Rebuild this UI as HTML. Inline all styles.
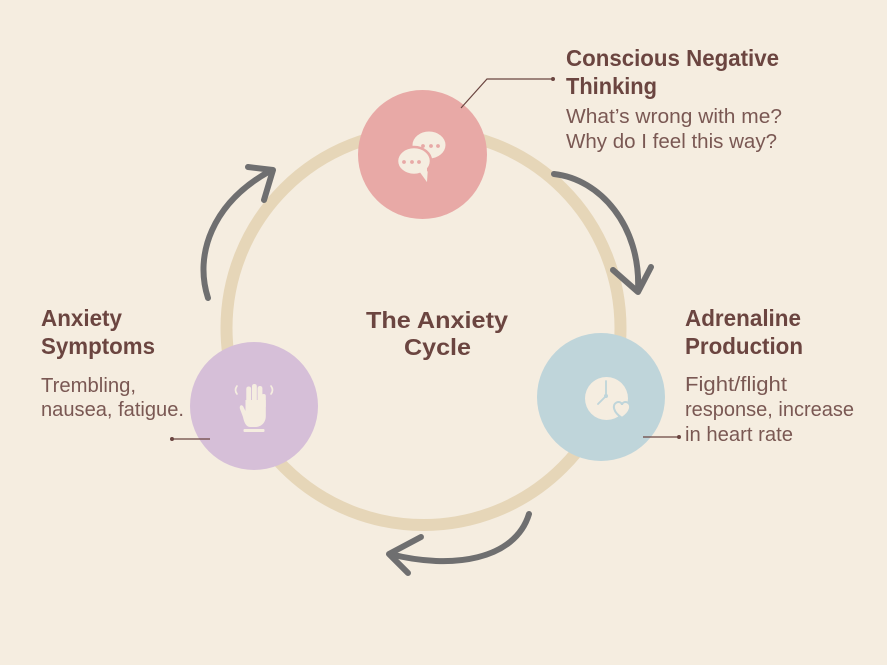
<!DOCTYPE html>
<html>
<head>
<meta charset="utf-8">
<style>
  html, body { margin: 0; padding: 0; background: #f5ede0; }
  body { width: 887px; height: 665px; overflow: hidden; }
  svg { display: block; }
  .h { font-family: "Liberation Sans", "DejaVu Sans", sans-serif; font-weight: bold; font-size: 23px; fill: #6b4540; }
  .b { font-family: "Liberation Sans", "DejaVu Sans", sans-serif; font-size: 20px; fill: #7a5853; }
</style>
</head>
<body>
<svg width="887" height="665" viewBox="0 0 887 665" xmlns="http://www.w3.org/2000/svg">
  <rect width="887" height="665" fill="#f5ede0"/>

  <!-- main ring -->
  <circle cx="423.5" cy="328" r="197" fill="none" stroke="#e6d6b8" stroke-width="12"/>

  <!-- arrows -->
  <g fill="none" stroke="#6f6f70" stroke-width="6" stroke-linecap="round" stroke-linejoin="round">
    <path d="M208,298 C194,255 212,203 270,171"/>
    <path d="M248,167 L273,170 L264,200"/>
    <path d="M554,174 C600,179 641,226 638,290"/>
    <path d="M613,270 L638,292 L651,267"/>
    <path d="M529,514 C515,560 452,570 390,554"/>
    <path d="M421,537 L389,554 L408,573"/>
  </g>

  <!-- pink node -->
  <circle cx="422.5" cy="154.5" r="64.5" fill="#e8a9a6"/>
  <ellipse cx="429" cy="145" rx="16.5" ry="13.5" fill="#f5ede0"/>
  <path d="M419,170 L427,182 L428,167 Z" fill="#f5ede0"/>
  <ellipse cx="414" cy="161" rx="17" ry="14" fill="#f5ede0" stroke="#e8a9a6" stroke-width="2.5"/>
  <path d="M419,171 L427,182 L427,168 Z" fill="#f5ede0"/>
  <g fill="#e8a9a6">
    <circle cx="423" cy="146" r="1.9"/><circle cx="431" cy="146" r="1.9"/><circle cx="438" cy="146" r="1.9"/>
    <circle cx="404" cy="162" r="1.9"/><circle cx="412" cy="162" r="1.9"/><circle cx="419" cy="162" r="1.9"/>
  </g>

  <!-- blue node -->
  <circle cx="601" cy="397" r="64" fill="#bfd5da"/>
  <circle cx="606.5" cy="398.5" r="21.5" fill="#f5ede0"/>
  <path d="M606,381 L606,396 L598,404" fill="none" stroke="#bfd5da" stroke-width="1.8" stroke-linecap="round" stroke-linejoin="round"/>
  <circle cx="606" cy="396" r="2" fill="#bfd5da"/>
  <path d="M622,418 C613,412 612,405 616.5,402.5 C619.5,401 622,403 622,405 C622,403 624.5,401 627.5,402.5 C632,405 631,412 622,418 Z" fill="#f5ede0" stroke="#bfd5da" stroke-width="2"/>

  <!-- purple node -->
  <circle cx="254" cy="406" r="64" fill="#d6bfd8"/>
  <g fill="#f5ede0">
    <rect x="246.3" y="386.5" width="4.8" height="20" rx="2.3"/>
    <rect x="252" y="384" width="4.8" height="20" rx="2.3"/>
    <rect x="257.6" y="386" width="4.8" height="20" rx="2.3"/>
    <rect x="261.5" y="394" width="4.3" height="14" rx="2"/>
    <path d="M245.5,400 L265.8,400 L265.8,416 C265.8,423 261,427 255,427 L250,427 C246,427 244,422 243,417 L240,409 C239,406 241,404 243,406 L245.5,411 Z"/>
    <rect x="243.5" y="429" width="21" height="3" rx="1"/>
  </g>
  <g fill="none" stroke="#f5ede0" stroke-width="1.7" stroke-linecap="round">
    <path d="M237,386 Q234,390 237,394"/>
    <path d="M271,386 Q274,390 271,394"/>
  </g>

  <!-- connectors -->
  <g stroke="#6b4540" stroke-width="1.2" fill="none">
    <path d="M461,108 L487,79 L553,79"/>
    <path d="M643,437 L679,437"/>
    <path d="M172,439 L210,439"/>
  </g>
  <g fill="#6b4540">
    <circle cx="553" cy="79" r="2"/>
    <circle cx="679" cy="437" r="2"/>
    <circle cx="172" cy="439" r="2"/>
  </g>

  <!-- text: top right -->
  <text class="h" x="566" y="66" textLength="213" lengthAdjust="spacingAndGlyphs">Conscious Negative</text>
  <text class="h" x="566" y="94" textLength="91" lengthAdjust="spacingAndGlyphs">Thinking</text>
  <text class="b" x="566" y="123" textLength="216" lengthAdjust="spacingAndGlyphs">What’s wrong with me?</text>
  <text class="b" x="566" y="148" textLength="211" lengthAdjust="spacingAndGlyphs">Why do I feel this way?</text>

  <!-- text: right -->
  <text class="h" x="685" y="326" textLength="116" lengthAdjust="spacingAndGlyphs">Adrenaline</text>
  <text class="h" x="685" y="354" textLength="118" lengthAdjust="spacingAndGlyphs">Production</text>
  <text class="b" x="685" y="391" textLength="102" lengthAdjust="spacingAndGlyphs">Fight/flight</text>
  <text class="b" x="685" y="416" textLength="169" lengthAdjust="spacingAndGlyphs">response, increase</text>
  <text class="b" x="685" y="441" textLength="108" lengthAdjust="spacingAndGlyphs">in heart rate</text>

  <!-- text: left -->
  <text class="h" x="41" y="326" textLength="81" lengthAdjust="spacingAndGlyphs">Anxiety</text>
  <text class="h" x="41" y="354" textLength="114" lengthAdjust="spacingAndGlyphs">Symptoms</text>
  <text class="b" x="41" y="392" textLength="95" lengthAdjust="spacingAndGlyphs">Trembling,</text>
  <text class="b" x="41" y="416" textLength="143" lengthAdjust="spacingAndGlyphs">nausea, fatigue.</text>

  <!-- center -->
  <text class="h" x="366" y="328" textLength="142" lengthAdjust="spacingAndGlyphs">The Anxiety</text>
  <text class="h" x="404" y="355" textLength="67" lengthAdjust="spacingAndGlyphs">Cycle</text>
</svg>
</body>
</html>
